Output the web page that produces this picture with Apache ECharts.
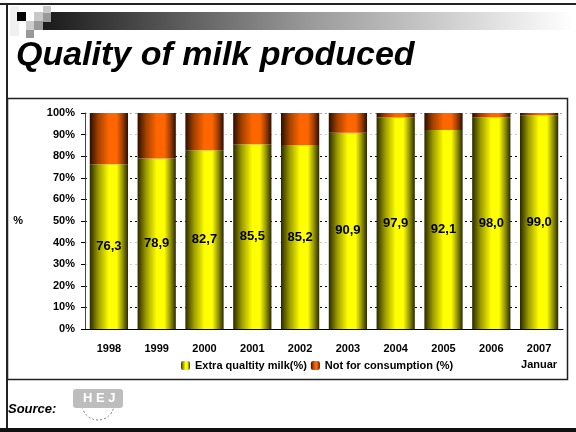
<!DOCTYPE html>
<html><head><meta charset="utf-8">
<script src="https://cdn.jsdelivr.net/npm/echarts@6/dist/echarts.min.js"></script>
<style>html,body{margin:0;padding:0;background:#fff}#c{width:576px;height:432px}</style>
</head><body><div id="c"></div>
<script>
var categories = ['1998','1999','2000','2001','2002','2003','2004','2005','2006','2007\nJanuar'];
var extraQuality = [76.3, 78.9, 82.7, 85.5, 85.2, 90.9, 97.9, 92.1, 98.0, 99.0];
var notForConsumption = [23.7, 21.1, 17.3, 14.5, 14.8, 9.1, 2.1, 7.9, 2.0, 1.0];
var yTicks = [0,10,20,30,40,50,60,70,80,90,100];

function grad(dark, mid, bright){
  return new echarts.graphic.LinearGradient(0,0,1,0,[
    {offset:0,color:dark},{offset:0.22,color:mid},{offset:0.5,color:bright},{offset:0.7,color:bright},
    {offset:0.85,color:mid},{offset:1,color:dark}]);
}
var chart = echarts.init(document.getElementById('c'), null, {renderer:'canvas'});
var font = 'Liberation Sans';
var option = {
  backgroundColor:'#fff',
  animation:false,
  graphic:[
    {type:'rect',shape:{x:0,y:3,width:576,height:2},style:{fill:'#222'}},
    {type:'rect',shape:{x:6,y:3,width:2,height:428},style:{fill:'#222'}},
    {type:'rect',shape:{x:0,y:428,width:576,height:4},style:{fill:'#111'}},
    {type:'rect',shape:{x:43,y:12,width:530,height:18},style:{fill:new echarts.graphic.LinearGradient(0,0,1,0,[{offset:0,color:'#1a1a1a'},{offset:0.5,color:'#999'},{offset:1,color:'#fff'}])}},
    {type:'rect',shape:{x:10,y:6,width:9,height:30},style:{fill:'#f0f0f0'}},
    {type:'rect',shape:{x:17,y:12,width:9,height:9},style:{fill:'#000'}},
    {type:'rect',shape:{x:34,y:12,width:9,height:9},style:{fill:'#c8c8c8'}},
    {type:'rect',shape:{x:43,y:6,width:8,height:7},style:{fill:'#c8c8c8'}},
    {type:'rect',shape:{x:43,y:13,width:8,height:9},style:{fill:'#999'}},
    {type:'rect',shape:{x:26,y:21,width:8,height:9},style:{fill:'#ccc'}},
    {type:'rect',shape:{x:34,y:21,width:9,height:9},style:{fill:'#999'}},
    {type:'rect',shape:{x:26,y:30,width:8,height:8},style:{fill:'#999'}},
    {type:'text',left:16,top:39,style:{text:'Quality of milk produced',font:'italic bold 34px "Liberation Sans"',fill:'#000'}},
    {type:'rect',shape:{x:7.5,y:98.5,width:560,height:281},style:{fill:'none',stroke:'#222',lineWidth:1.5},z:-1},
    {type:'text',left:8,top:403,style:{text:'Source:',font:'italic bold 13px "Liberation Sans"',fill:'#000'}},
    {type:'group',left:73,top:389,children:[
      {type:'rect',shape:{x:0,y:0,width:50,height:19,r:3},style:{fill:'#bdbdbd'}},
      {type:'text',x:10,y:3,style:{text:'H E J',font:'bold 13px "Liberation Sans"',fill:'#fff'}},
      {type:'arc',shape:{cx:25,cy:15,r:16,startAngle:0.3,endAngle:Math.PI-0.3},style:{stroke:'#777',fill:'none',lineWidth:1,lineDash:[2,2]}}
    ]}
  ],
  grid:{left:85,right:13,top:113,bottom:103,containLabel:false},
  legend:{
    top:355,left:176,itemWidth:9,itemHeight:9,itemGap:4,
    textStyle:{fontFamily:font,fontWeight:'bold',fontSize:11,color:'#000'},
    data:['Extra qualtity milk(%)','Not for consumption (%)']
  },
  xAxis:{
    type:'category',data:categories,
    axisLine:{lineStyle:{color:'#000'}},
    axisTick:{alignWithLabel:false,lineStyle:{color:'#000'}},
    axisLabel:{fontFamily:font,fontWeight:'bold',fontSize:11,color:'#000',margin:12,lineHeight:16,verticalAlign:'top'}
  },
  yAxis:{
    type:'value',min:0,max:100,interval:10,
    name:'%',nameLocation:'middle',nameRotate:0,nameGap:62,
    nameTextStyle:{fontFamily:font,fontWeight:'bold',fontSize:11,color:'#000'},
    axisLine:{show:true,lineStyle:{color:'#444',width:1}},
    axisTick:{show:true,length:4,lineStyle:{color:'#000'}},
    axisLabel:{fontFamily:font,fontWeight:'bold',fontSize:11,color:'#000',margin:10,formatter:function(v){return v+'%';}},
    splitLine:{show:true,lineStyle:{type:[2,3],width:1,color:['#000','#000','#000','#ccc','#ccc','#000','#000','#000','#000','#ccc','#aaa']}}
  },
  series:[
    {name:'Extra qualtity milk(%)',type:'bar',stack:'s',barCategoryGap:'20%',data:extraQuality,
     itemStyle:{color:grad('#2a2a00','#9a9a00','#ffff00')},
     label:{show:true,position:'inside',fontFamily:font,fontWeight:'bold',fontSize:13,color:'#000',
       formatter:function(p){return p.value.toFixed(1).replace('.',',');}}},
    {name:'Not for consumption (%)',type:'bar',stack:'s',data:notForConsumption,
     itemStyle:{color:grad('#2a0e00','#a24000','#ff6600')}}
  ]
};
chart.setOption(option);
</script></body></html>
